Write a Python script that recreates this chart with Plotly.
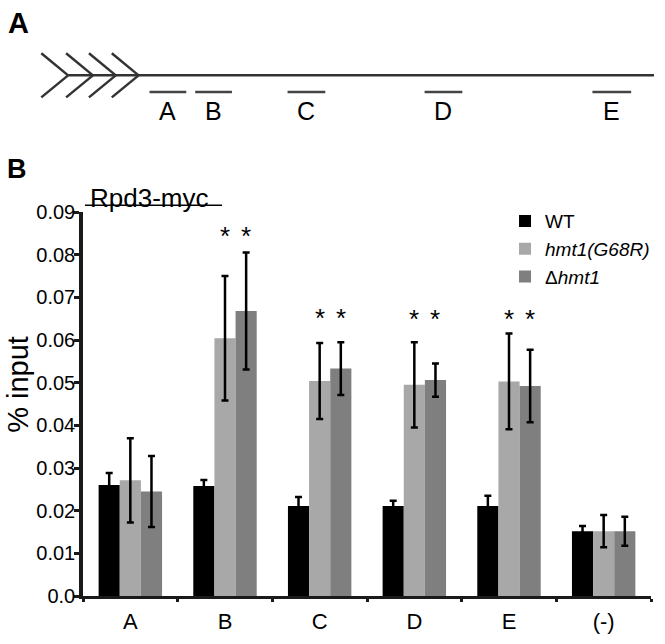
import plotly.graph_objects as go

# ---------------- data ----------------
categories = ["A", "B", "C", "D", "E", "(-)"]
wt = [0.0260, 0.0258, 0.0211, 0.0211, 0.0211, 0.0152]
wt_err = [0.0028, 0.0014, 0.0021, 0.0012, 0.0024, 0.0012]
g68r = [0.0271, 0.0604, 0.0504, 0.0495, 0.0503, 0.0152]
g68r_err = [0.0099, 0.0146, 0.0089, 0.0100, 0.0112, 0.0038]
dhmt1 = [0.0245, 0.0668, 0.0533, 0.0506, 0.0492, 0.0152]
dhmt1_err = [0.0083, 0.0137, 0.0062, 0.0039, 0.0085, 0.0034]
star_y = [None, 0.0855, 0.0664, 0.0662, 0.0662, None]
ytick_vals = [0.0, 0.01, 0.02, 0.03, 0.04, 0.05, 0.06, 0.07, 0.08, 0.09]
ytick_text = ["0.0", "0.01", "0.02", "0.03", "0.04", "0.05", "0.06", "0.07", "0.08", "0.09"]

# schematic (panel A): region names and segment extents (px)
regions = ["A", "B", "C", "D", "E"]
region_start = [150, 196, 289, 427, 596]
region_end = [187, 233, 327, 465, 635]
chevron_tips = [68, 93, 116, 139]

# ---------------- layout geometry ----------------
W, H = 665, 644
ML, MR, MT, MB = 83, 10, 212, 40
PW, PH = W - ML - MR, H - MT - MB
BARGAP = 0.33
BW = (1 - BARGAP) / 3

def px(x):
    return (x - ML) / PW

def py(y):
    return (H - MB - y) / PH

FONT = "Liberation Sans, Arial, sans-serif"
INK = "#1a1a1a"
xs = list(range(len(categories)))

fig = go.Figure()
series = [
    ("WT", wt, wt_err, "#000000"),
    ("<i>hmt1(G68R)</i>", g68r, g68r_err, "#a8a8a8"),
    ("\u0394<i>hmt1</i>", dhmt1, dhmt1_err, "#7f7f7f"),
]
for i, (name, vals, errs, col) in enumerate(series):
    fig.add_trace(go.Bar(
        x=xs, y=vals, name=name, marker=dict(color=col, line=dict(width=0)),
        legendgroup=f"g{i}",
        error_y=dict(type="data", array=errs, visible=True, color="#000000",
                     thickness=2.5, width=3.5),
    ))

# significance stars above hmt1(G68R) and Δhmt1 bars
for i, sy in enumerate(star_y):
    if sy is None:
        continue
    for off in (0.0, BW):
        fig.add_annotation(x=xs[i] + off, y=sy, xref="x", yref="y", text="*",
                           showarrow=False, font=dict(size=26, color="#000", family=FONT),
                           yanchor="middle", yshift=-5)

shapes = []
# panel A: promoter chevrons
for t in chevron_tips:
    for yend in (50, 95):
        shapes.append(dict(type="line", xref="paper", yref="paper",
                           x0=px(t - 27), y0=py(yend), x1=px(t), y1=py(72.5),
                           line=dict(color="#333333", width=2.5)))
shapes.append(dict(type="line", xref="paper", yref="paper",
                   x0=px(chevron_tips[0]), y0=py(72.5), x1=px(658), y1=py(72.5),
                   line=dict(color="#333333", width=2.5)))
for name, s, e in zip(regions, region_start, region_end):
    shapes.append(dict(type="line", xref="paper", yref="paper",
                       x0=px(s), y0=py(89.5), x1=px(e), y1=py(89.5),
                       line=dict(color="#444444", width=2.5)))
    fig.add_annotation(x=px((s + e) / 2), y=py(109), xref="paper", yref="paper",
                       text=name, showarrow=False, font=dict(size=25, color="#000", family=FONT),
                       xanchor="center", yanchor="middle")
# underline of the title
shapes.append(dict(type="line", xref="paper", yref="paper",
                   x0=px(85), y0=py(205), x1=px(223), y1=py(205),
                   line=dict(color="#000", width=1.5)))

# panel labels, title, y-axis title
fig.add_annotation(x=px(5), y=py(19), xref="paper", yref="paper", text="<b>A</b>",
                   showarrow=False, font=dict(size=29, color="#000", family=FONT),
                   xanchor="left", yanchor="middle")
fig.add_annotation(x=px(4), y=py(168), xref="paper", yref="paper", text="<b>B</b>",
                   showarrow=False, font=dict(size=27, color="#000", family=FONT),
                   xanchor="left", yanchor="middle")
fig.add_annotation(x=px(88), y=py(198), xref="paper", yref="paper", text="Rpd3-myc",
                   showarrow=False, font=dict(size=26, color="#000", family=FONT),
                   xanchor="left", yanchor="middle")
fig.add_annotation(x=px(18), y=py(388), xref="paper", yref="paper", text="% input",
                   showarrow=False, font=dict(size=29, color="#000", family=FONT),
                   textangle=-90, xanchor="center", yanchor="middle")

fig.update_layout(
    width=W, height=H,
    margin=dict(l=ML, r=MR, t=MT, b=MB, pad=0),
    paper_bgcolor="white", plot_bgcolor="white",
    barmode="group", bargap=BARGAP, bargroupgap=0,
    font=dict(family=FONT, color="#000", size=18),
    shapes=shapes,
    showlegend=True,
    legend=dict(x=px(508), y=py(202), xanchor="left", yanchor="top",
                font=dict(size=19, family=FONT, color="#000"),
                traceorder="grouped", tracegroupgap=0, bgcolor="rgba(0,0,0,0)",
                itemwidth=30),
    xaxis=dict(range=[-0.5, 5.5], tickmode="array", tickvals=xs, ticktext=categories,
               ticks="", showline=True, linewidth=3, linecolor=INK, showgrid=False,
               zeroline=False, tickfont=dict(size=22, family=FONT, color="#000"),
               ticklabelstandoff=4,
               minor=dict(tickmode="array", tickvals=[v - 0.5 for v in xs] + [xs[-1] + 0.5],
                          ticks="outside", ticklen=3, tickwidth=3, tickcolor=INK),
               fixedrange=True),
    yaxis=dict(range=[0, 0.09], tickmode="array", tickvals=ytick_vals, ticktext=ytick_text,
               ticks="outside", ticklen=5, tickwidth=3, tickcolor=INK,
               showline=True, linewidth=3.5, linecolor=INK, showgrid=False, zeroline=False,
               tickfont=dict(size=20, family=FONT, color="#000"),
               ticklabelstandoff=-5,
               fixedrange=True),
)

fig.write_html("out.html", config={"displayModeBar": False},
               post_script="document.body.style.margin='0px';document.body.style.overflow='hidden';")
